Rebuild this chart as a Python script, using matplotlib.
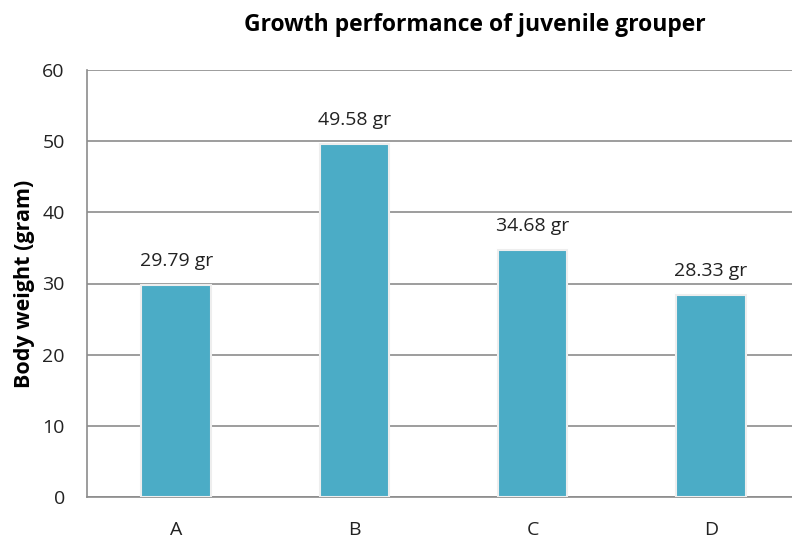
import matplotlib.pyplot as plt
import numpy as np

plt.rcParams['font.family'] = ['Open Sans', 'DejaVu Sans']

groups = ['A', 'B', 'C', 'D']
weights = [29.79, 49.58, 34.68, 28.33]
labels = ['29.79 gr', '49.58 gr', '34.68 gr', '28.33 gr']

fig = plt.figure(figsize=(7.92, 5.44), dpi=100)
ax = fig.add_axes([87/792, 47/544, 713/792, 427/544])

x = np.arange(len(groups))
ax.bar(x, weights, width=0.39, color='#4BACC6', edgecolor='#eeeeee', linewidth=1.5, zorder=3)

for xi, w, lab in zip(x, weights, labels):
    ax.annotate(lab, (xi, w), xytext=(0, 11), textcoords='offset points',
                ha='center', va='bottom', fontsize=14, color='#222222')

ax.set_xlim(-0.5, 3.5)
ax.set_ylim(0, 60)
ax.set_yticks(range(0, 61, 10))
ax.set_xticks(x)
ax.set_xticklabels(groups)
ax.yaxis.grid(True, color='#8c8c8c', linewidth=1.2, zorder=0)
ax.tick_params(axis='both', length=0, labelsize=14, colors='#222222')
ax.tick_params(axis='x', pad=17)
ax.tick_params(axis='y', pad=16)
for s in ['top', 'right']:
    ax.spines[s].set_visible(False)
for s in ['left', 'bottom']:
    ax.spines[s].set_color('#8c8c8c')
    ax.spines[s].set_linewidth(1.2)

ax.set_ylabel('Body weight (gram)', fontsize=15.5, fontweight='bold', labelpad=5)
fig.text(475/792, 1 - 25/544, 'Growth performance of juvenile grouper',
         ha='center', va='center', fontsize=16.5, fontweight='bold')

fig.savefig('out.png', dpi=100)
